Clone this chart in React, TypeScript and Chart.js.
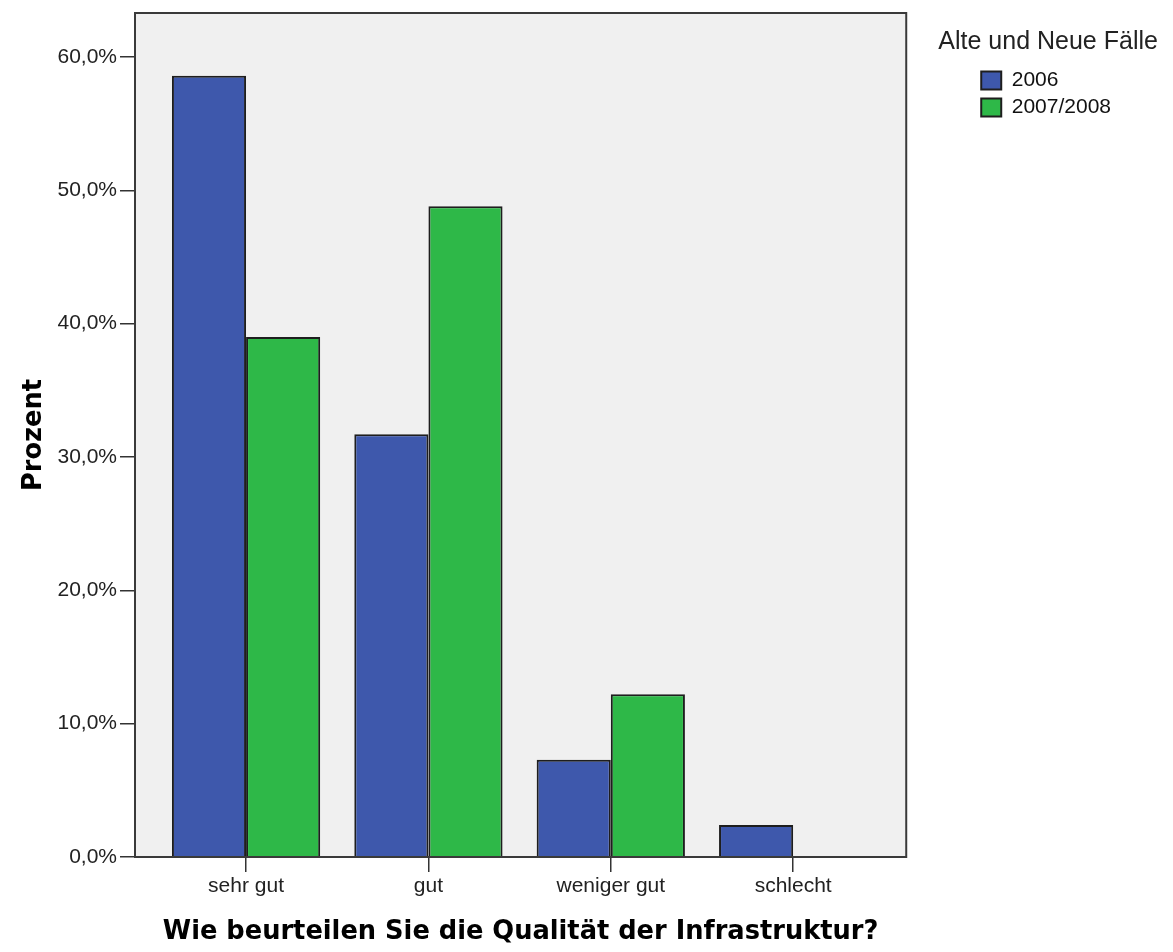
import React, { useEffect, useRef } from 'react';
import { Chart, registerables } from 'chart.js';

Chart.register(...registerables);

const categories = ['sehr gut', 'gut', 'weniger gut', 'schlecht'];
const seriesLabels = ['2006', '2007/2008'];
const values2006 = [58.6, 31.7, 7.3, 2.4];
const values2007 = [39.0, 48.8, 12.2, 0.0];
const yTickValues = [0, 10, 20, 30, 40, 50, 60];
const xTitle = 'Wie beurteilen Sie die Qualität der Infrastruktur?';
const yTitle = 'Prozent';
const legendTitle = 'Alte und Neue Fälle';

const seriesColors = ['#3E58AC', '#2EB848'];
const sansFamily = '"Liberation Sans", Arial, sans-serif';
const boldFamily = '"DejaVu Sans", Verdana, sans-serif';

const framePlugin = {
  id: 'frameBg',
  afterInit(chart: any) {
    const lg = chart.legend;
    if (lg) {
      // draw the legend without clipping so its (wider) title is fully visible
      lg.draw = function () {
        if (this.options.display) this._draw();
      };
    }
  },
  beforeDraw(chart: any) {
    const { ctx, chartArea: a } = chart;
    ctx.save();
    ctx.fillStyle = '#F0F0F0';
    ctx.fillRect(a.left, a.top, a.right - a.left, a.bottom - a.top);
    ctx.restore();
  },
  afterDatasetsDraw(chart: any) {
    const { ctx, chartArea: a } = chart;
    ctx.save();
    ctx.strokeStyle = '#3a3a3a';
    ctx.lineWidth = 2;
    ctx.strokeRect(a.left, a.top, a.right - a.left, a.bottom - a.top);
    ctx.restore();
  },
};

export default function App() {
  const canvasRef = useRef<HTMLCanvasElement | null>(null);

  useEffect(() => {
    if (!canvasRef.current) return;
    const seriesValues = [values2006, values2007];
    const chart = new Chart(canvasRef.current, {
      type: 'bar',
      data: {
        datasets: seriesLabels.map((label, si) => ({
          label,
          data: categories.map((_, i) => ({ x: i, y: seriesValues[si][i] })),
          backgroundColor: seriesColors[si],
          borderColor: '#1e1e1e',
          borderWidth: 2,
          categoryPercentage: 0.813,
          barPercentage: 1,
        })),
      },
      options: {
        responsive: false,
        animation: false,
        layout: { padding: { top: 13, right: 52, bottom: 0, left: 0 } },
        plugins: {
          tooltip: { enabled: false },
          legend: {
            position: 'right',
            align: 'start',
            title: {
              display: true,
              text: legendTitle,
              font: { family: sansFamily, size: 25 },
              color: '#222',
              padding: { top: 17, bottom: 4 },
            },
            labels: {
              boxWidth: 20,
              boxHeight: 18,
              padding: 6,
              font: { family: sansFamily, size: 21 },
              color: '#111',
            },
          },
        },
        scales: {
          x: {
            type: 'linear',
            min: -0.609,
            max: 3.62,
            offset: false,
            afterBuildTicks: (s: any) => {
              s.ticks = categories.map((_, i) => ({ value: i }));
            },
            afterFit: (s: any) => {
              s.height = 95;
              s.paddingLeft = 0;
              s.paddingRight = 0;
            },
            grid: {
              offset: false,
              drawOnChartArea: false,
              drawTicks: true,
              tickLength: 15,
              color: '#333',
              lineWidth: 1.5,
            },
            border: { display: false },
            ticks: {
              callback: (v: any) => categories[v] ?? '',
              font: { family: sansFamily, size: 21 },
              color: '#222',
              padding: 2,
              autoSkip: false,
              maxRotation: 0,
            },
            title: {
              display: true,
              text: xTitle,
              font: { family: boldFamily, size: 25.7, weight: 'bold' },
              color: '#000',
              padding: { top: 0, bottom: 4 },
            },
          },
          y: {
            type: 'linear',
            min: 0,
            max: 63.3,
            afterBuildTicks: (s: any) => {
              s.ticks = yTickValues.map((v) => ({ value: v }));
            },
            afterFit: (s: any) => {
              s.width = 135;
              s.paddingTop = 0;
              s.paddingBottom = 0;
            },
            grid: { drawOnChartArea: false, drawTicks: true, tickLength: 15, color: '#333', lineWidth: 1.5 },
            border: { display: false },
            ticks: {
              callback: (v: any) => Number(v).toFixed(1).replace('.', ',') + '%',
              font: { family: sansFamily, size: 21 },
              color: '#222',
              padding: 3,
            },
            title: {
              display: true,
              text: yTitle,
              font: { family: boldFamily, size: 25.7, weight: 'bold' },
              color: '#000',
              padding: { top: 19, bottom: 0 },
            },
          },
          y2: {
            type: 'linear',
            position: 'right',
            display: true,
            grid: { display: false },
            border: { display: false },
            ticks: { display: false },
            afterFit: (s: any) => {
              s.width = 69;
              s.paddingTop = 0;
              s.paddingBottom = 0;
            },
          },
        },
      },
      plugins: [framePlugin],
    } as any);
    return () => chart.destroy();
  }, []);

  return (
    <canvas
      ref={canvasRef}
      width={1173}
      height={952}
      style={{ position: 'absolute', left: 0, top: 0, display: 'block' }}
    />
  );
}
